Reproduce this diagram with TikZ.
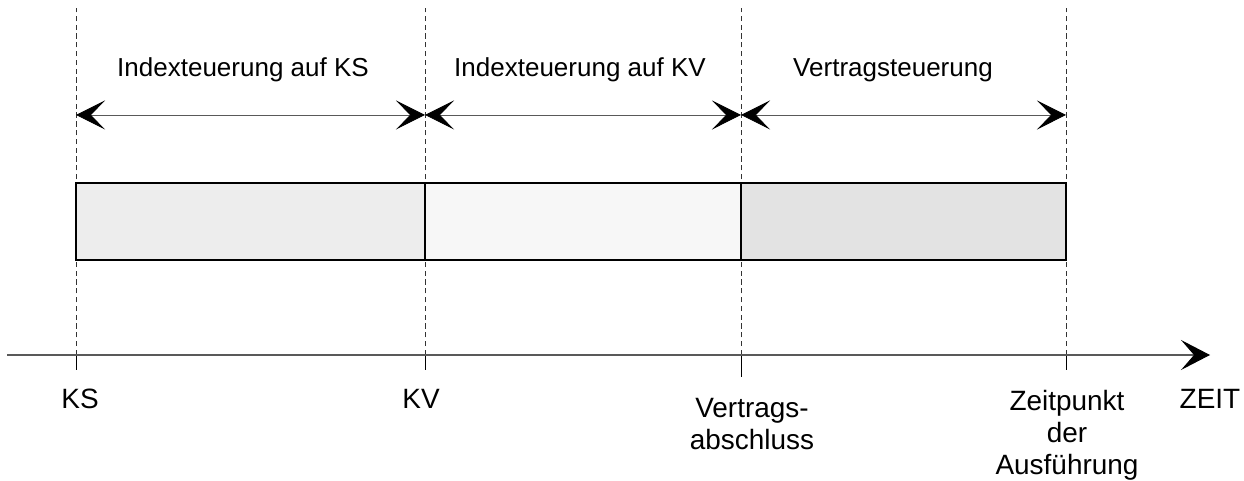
\documentclass[tikz,border=0pt]{standalone}
\usepackage{fontspec}
\setmainfont{Liberation Sans}
\usetikzlibrary{arrows.meta, positioning}

\begin{document}
\begin{tikzpicture}[
        lbl/.style={align=center, font=\fontsize{14.8}{14.8}\selectfont, inner sep=0pt},
        tlbl/.style={align=center, font=\fontsize{15.9}{18.2}\selectfont, inner sep=0pt},
        guide/.style={densely dashed, very thin, black!80},
        spantip/.tip={Stealth[length=0.58cm, width=0.58cm, inset=0.28cm, black]},
        axistip/.tip={Stealth[length=0.58cm, width=0.6cm, inset=0.26cm, black]},
        span/.style={spantip-spantip, gray!70!black, line width=0.5pt},
        phase/.style={draw, line width=0.6pt}
    ]
        \useasboundingbox (0,0) rectangle (24.88,9.62);

        % Time points
        \coordinate (ks) at (1.52,2.52);
        \coordinate (kv) at (8.5,2.52);
        \coordinate (va) at (14.82,2.52);
        \coordinate (za) at (21.32,2.52);

        % Guides
        \foreach \t in {ks,kv,va,za} {
            \draw[guide] (\t) -- ++(0,6.94);
        }
        \draw[very thin] (ks) -- ++(0,-0.3);
        \draw[very thin] (kv) -- ++(0,-0.3);
        \draw[very thin] (va) -- ++(0,-0.44);
        \draw[very thin] (za) -- ++(0,-0.3);

        % Phases
        \draw[phase, fill=black!7] (1.52,4.42) rectangle (8.5,5.96);
        \draw[phase, fill=black!3] (8.5,4.42) rectangle (14.82,5.96);
        \draw[phase, fill=black!11] (14.82,4.42) rectangle (21.32,5.96);

        % Spans
        \coordinate (s1) at (1.52,7.32);
        \coordinate (s2) at (8.5,7.32);
        \coordinate (s3) at (14.82,7.32);
        \coordinate (s4) at (21.32,7.32);
        \draw[span] (s1) -- (s2);
        \draw[span] (s2) -- (s3);
        \draw[span] (s3) -- (s4);
        \node[lbl] (l1) at (4.86,8.22) {Indexteuerung auf KS};
        \node[lbl] (l2) at (11.6,8.22) {Indexteuerung auf KV};
        \node[lbl] (l3) at (17.86,8.22) {Vertragsteuerung};

        % Time axis
        \coordinate (t0) at (0.14,2.52);
        \coordinate (t1) at (24.2,2.52);
        \draw[-axistip, gray!70!black, line width=0.6pt] (t0) -- (t1);

        % Time labels
        \node[tlbl, anchor=base] (n1) at (1.6,1.44) {KS};
        \node[tlbl, anchor=base] (n2) at (8.42,1.44) {KV};
        \node[tlbl, anchor=north] (n3) at (15.04,1.66) {Vertrags-\\abschluss};
        \node[tlbl, anchor=north] (n4) at (21.34,1.82) {Zeitpunkt\\der\\Ausführung};
        \node[tlbl, anchor=base] (n5) at (24.2,1.44) {ZEIT};
    \end{tikzpicture}
\end{document}
